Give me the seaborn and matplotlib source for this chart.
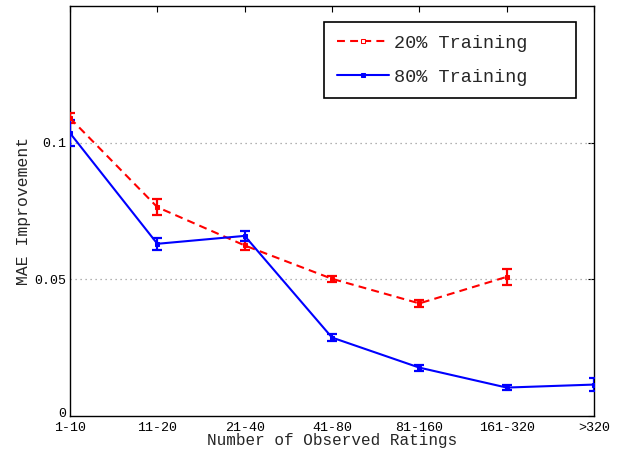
import numpy as np
import pandas as pd
import matplotlib
matplotlib.use("Agg")
import matplotlib.pyplot as plt
import matplotlib.transforms as mtransforms
import seaborn as sns

categories = ["1-10", "11-20", "21-40", "41-80", "81-160", "161-320", ">320"]
train20 = [0.1090, 0.0764, 0.0624, 0.0502, 0.0412, 0.0509]
err20 = [0.0018, 0.0029, 0.0016, 0.0012, 0.0012, 0.0029]
train80 = [0.1035, 0.0630, 0.0659, 0.0287, 0.0177, 0.0104, 0.0115]
err80 = [0.0048, 0.0021, 0.0018, 0.0014, 0.0011, 0.0009, 0.0025]
yticks = [0, 0.05, 0.1]
yticklabels = ["0", "0.05", "0.1"]

sns.set_style("white")
plt.rcParams["font.family"] = ["Liberation Mono", "DejaVu Sans Mono"]

df20 = pd.DataFrame({"x": np.arange(len(train20)), "y": train20, "s": "20% Training"})
df80 = pd.DataFrame({"x": np.arange(len(train80)), "y": train80, "s": "80% Training"})

fig = plt.figure(figsize=(6.22, 4.5), dpi=100)
ax = fig.add_axes([70 / 622, 1 - 416 / 450, (594 - 70) / 622, (416 - 6) / 450])

red = "#ff0000"
blue = "#0000ff"

ax.errorbar(df20["x"], df20["y"], yerr=err20, fmt="none", ecolor=red,
            elinewidth=1.6, capsize=3.5, capthick=1.6, zorder=3)
ax.errorbar(df80["x"], df80["y"], yerr=err80, fmt="none", ecolor=blue,
            elinewidth=1.6, capsize=3.5, capthick=1.6, zorder=3)

sns.lineplot(data=df20, x="x", y="y", ax=ax, color=red, linewidth=1.5,
             marker="s", markersize=3.5, markeredgecolor=red, markerfacecolor=red,
             label="20% Training", zorder=4)
ax.lines[-1].set_dashes((3.8, 2.5))
sns.lineplot(data=df80, x="x", y="y", ax=ax, color=blue, linewidth=1.5,
             marker="s", markersize=3.5, markeredgecolor=blue, markerfacecolor=blue,
             label="80% Training", zorder=4)

ax.set_xlim(0, len(categories) - 1)
ax.set_ylim(0, 0.15)
ax.set_xticks(np.arange(len(categories)))
ax.set_xticklabels(categories, fontsize=9.6)
ax.set_yticks(yticks)
ax.set_yticklabels(yticklabels, fontsize=9.6)
for yv in yticks[1:]:
    ax.axhline(yv, color="#999999", linestyle=(0, (1, 3)), linewidth=0.9, zorder=1)

ax.tick_params(direction="in", length=4, width=0.8, top=True, right=True,
               colors="black", pad=3)
ax.tick_params(axis="x", pad=4.2)
for sp in ax.spines.values():
    sp.set_visible(True)
    sp.set_color("black")
    sp.set_linewidth(1.0)

# nudge the "0" y-label up slightly so it does not collide with "1-10"
zero_lbl = ax.get_yticklabels()[0]
zero_lbl.set_transform(zero_lbl.get_transform() +
                       mtransforms.ScaledTranslation(0, 2.5 / 72, fig.dpi_scale_trans))

ax.set_xlabel("Number of Observed Ratings", fontsize=11.5, labelpad=-0.5)
ax.set_ylabel("MAE Improvement", fontsize=11.8, labelpad=2)

leg = ax.legend(loc="upper left",
                bbox_to_anchor=(324 / 622, 1 - 99 / 450, 252 / 622, 77 / 450),
                bbox_transform=fig.transFigure, mode="expand", fontsize=13.3,
                frameon=True, fancybox=False, edgecolor="black", framealpha=1,
                handlelength=2.8, handletextpad=0.3, borderpad=0.7,
                labelspacing=0.9, borderaxespad=0)
leg.get_frame().set_linewidth(1.2)
leg.legend_handles[0].set_markerfacecolor("white")

fig.savefig("out.png", dpi=100)
